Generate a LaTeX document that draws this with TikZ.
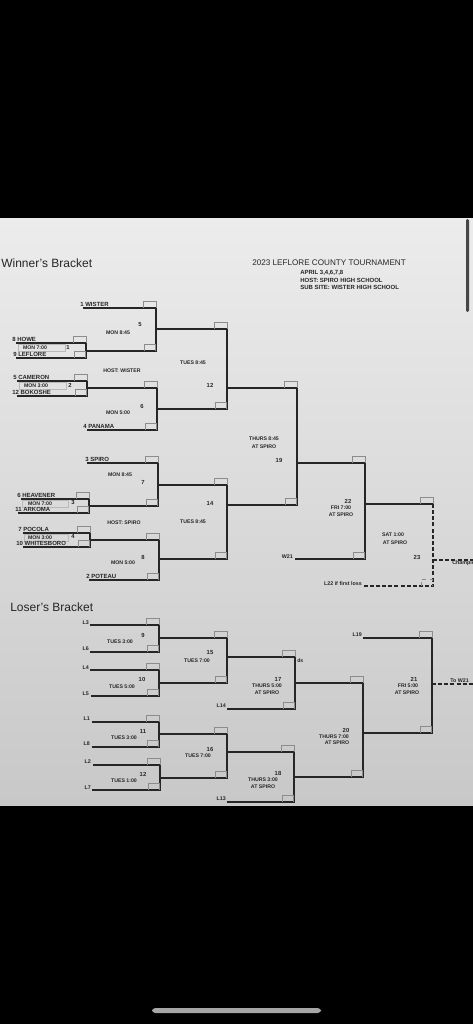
\documentclass[tikz,border=0pt]{standalone}
\usepackage{fontspec}
\setmainfont{Liberation Sans}
\definecolor{ink}{RGB}{38,38,38}
\definecolor{paperA}{RGB}{236,236,236}
\definecolor{paperB}{RGB}{200,200,200}
\definecolor{boxc}{RGB}{140,140,140}
\definecolor{faint}{RGB}{185,185,185}
\newcommand\scoreboxes[3]{%
  \draw[sb] (#1-13,#2) |- (#1,#2-7) -- (#1,#2);
  \draw[sb] (#1-12,#3) |- (#1-1,#3-7) -- (#1-1,#3);}
\begin{document}
\begin{tikzpicture}[x=0.75pt,y=-0.75pt,
  br/.style={draw=ink,line width=1pt},
  dsh/.style={draw=ink,line width=1pt,dash pattern=on 3pt off 1.6pt},
  sb/.style={draw=boxc,line width=0.4pt},
  fbox/.style={draw=faint,line width=0.4pt},
  lbl/.style={inner sep=0pt,text=ink,font=\fontsize{3.9}{4.4}\selectfont\bfseries},
  num/.style={inner sep=0pt,text=ink,font=\fontsize{4.4}{5}\selectfont\bfseries},
  team/.style={inner sep=0pt,anchor=base west,text=ink,font=\fontsize{4.5}{5}\selectfont\bfseries},
  ll/.style={inner sep=0pt,anchor=base east,text=ink,font=\fontsize{4}{4.5}\selectfont\bfseries},
  head/.style={inner sep=0pt,anchor=west,text=ink,font=\fontsize{9}{10}\selectfont},
  sub/.style={inner sep=0pt,anchor=west,text=ink,font=\fontsize{4.5}{5}\selectfont\bfseries}]
\fill[black] (0,0) rectangle (473,1024);
\useasboundingbox (0,0) rectangle (473,1024);
\shade[top color=paperA,bottom color=paperB] (0,218) rectangle (473,805);
\fill[gray!55!black,rounded corners=1] (466,219) rectangle (469,312);
\fill[gray!70,rounded corners=2.5] (152,1008) rectangle (321,1013);

% headings
\node[head] (hw) at (1,263) {Winner's Bracket};
\node[head] (hl) at (10,607) {Loser's Bracket};
\node[inner sep=0pt,anchor=west,text=ink,font=\fontsize{6.1}{7}\selectfont] (title) at (252,263) {2023 LEFLORE COUNTY TOURNAMENT};
\node[sub] (s1) at (300,273) {APRIL 3,4,6,7,8};
\node[sub] (s2) at (300,280) {HOST: SPIRO HIGH SCHOOL};
\node[sub] (s3) at (300,287) {SUB SITE: WISTER HIGH SCHOOL};

% ---------- Winner's bracket lines ----------
\draw[br] (16,343) -- (86,343) -- (86,358) -- (16,358);   % G1
\draw[br] (17,381) -- (87,381) -- (87,396) -- (17,396);   % G2
\draw[br] (83,308) -- (156,308) -- (156,351) -- (86,351); % G5
\draw[br] (87,388) -- (157,388) -- (157,430) -- (87,430); % G6
\draw[br] (156,329) -- (227,329) -- (227,409) -- (157,409); % G12
\draw[br] (21,499) -- (89,499) -- (89,513) -- (18,513);   % G3
\draw[br] (23,533) -- (90,533) -- (90,547) -- (23,547);   % G4
\draw[br] (87,463) -- (158,463) -- (158,506) -- (89,506); % G7
\draw[br] (90,540) -- (159,540) -- (159,580) -- (89,580); % G8
\draw[br] (158,485) -- (227,485) -- (227,559) -- (159,559); % G14
\draw[br] (227,388) -- (297,388) -- (297,505) -- (227,505); % G19
\draw[br] (297,463) -- (365,463) -- (365,559) -- (295,559); % G22
\draw[br] (365,504) -- (433,504);                           % G23 top
\draw[dsh] (433,504) -- (433,586) -- (363,586);             % G23 dashed
\draw[dsh] (433,560) -- (473,560);

\scoreboxes{86}{343}{358}
\scoreboxes{87}{381}{396}
\scoreboxes{156}{308}{351}
\scoreboxes{157}{388}{430}
\scoreboxes{227}{329}{409}
\scoreboxes{89}{499}{513}
\scoreboxes{90}{533}{547}
\scoreboxes{158}{463}{506}
\scoreboxes{159}{540}{580}
\scoreboxes{227}{485}{559}
\scoreboxes{297}{388}{505}
\scoreboxes{365}{463}{559}
\draw[sb] (420,504) |- (433,497) -- (433,504);
\draw[sb,dashed] (421,586) |- (432,579) -- (432,586);

\draw[fbox] (18,344.5) rectangle (65,351);
\draw[fbox] (19,382.5) rectangle (66,389);
\draw[fbox] (22,500.5) rectangle (68,507);
\draw[fbox] (24,534.5) rectangle (68,541);

% teams
\node[team] (t1)  at (80,306.5) {1 WISTER};
\node[team] (t8)  at (12,341.5) {8 HOWE};
\node[team] (t9)  at (13,356.5) {9 LEFLORE};
\node[team] (t5)  at (13,379.5) {5 CAMERON};
\node[team] (t12) at (12,394.5) {12 BOKOSHE};
\node[team] (t4)  at (83,428.5) {4 PANAMA};
\node[team] (t3)  at (85,461.5) {3 SPIRO};
\node[team] (t6)  at (17,497.5) {6 HEAVENER};
\node[team] (t11) at (15,511.5) {11 ARKOMA};
\node[team] (t7)  at (18,531.5) {7 POCOLA};
\node[team] (t10) at (16,545.5) {10 WHITESBORO};
\node[team] (t2)  at (86,578.5) {2 POTEAU};

% game labels
\node[num] (n5) at (140,325) {5};   \node[lbl] (m5) at (118,333) {MON 8:45};
\node[lbl] (m1) at (35,348) {MON 7:00}; \node[num] (n1) at (68,347) {1};
\node[lbl] (m2) at (36,385.5) {MON 3:00}; \node[num] (n2) at (70,385) {2};
\node[lbl] (hw1) at (122,371) {HOST: WISTER};
\node[num] (n6) at (142,406) {6};   \node[lbl] (m6) at (118,413) {MON 5:00};
\node[lbl] (m12) at (193,363) {TUES 8:45}; \node[num] (n12) at (210,385) {12};
\node[lbl] (m7) at (120,475) {MON 8:45}; \node[num] (n7) at (143,482) {7};
\node[lbl] (m3) at (40,503.5) {MON 7:00}; \node[num] (n3) at (73,502) {3};
\node[lbl] (hs1) at (124,523) {HOST: SPIRO};
\node[lbl] (m4) at (40,537.5) {MON 3:00}; \node[num] (n4) at (73,536) {4};
\node[num] (n8) at (143,557) {8};   \node[lbl] (m8) at (123,563) {MON 5:00};
\node[num] (n14) at (210,503) {14}; \node[lbl] (m14) at (193,522) {TUES 8:45};
\node[lbl] (m19a) at (264,439) {THURS 8:45}; \node[lbl] (m19b) at (264,446.5) {AT SPIRO}; \node[num] (n19) at (279,460) {19};
\node[num] (n22) at (348,501) {22}; \node[lbl] (m22a) at (341,508) {FRI 7:00}; \node[lbl] (m22b) at (341,515) {AT SPIRO};
\node[ll] (w21) at (293,558) {W21};
\node[lbl] (m23a) at (393,535) {SAT 1:00}; \node[lbl] (m23b) at (395,542.5) {AT SPIRO}; \node[num] (n23) at (417,557) {23};
\node[ll] (l22) at (362,585) {L22 if first loss};
\node[inner sep=0pt,anchor=base west,text=ink,font=\fontsize{4}{4.5}\selectfont\bfseries] (ch) at (452,564.5) {Champion};

% ---------- Loser's bracket lines ----------
\draw[br] (90,625) -- (159,625) -- (159,652) -- (90,652);   % G9
\draw[br] (90,670) -- (159,670) -- (159,696) -- (91,696);   % G10
\draw[br] (159,638) -- (227,638) -- (227,683) -- (159,683); % G15
\draw[br] (92,722) -- (159,722) -- (159,747) -- (92,747);   % G11
\draw[br] (93,765) -- (160,765) -- (160,790) -- (92,790);   % G12
\draw[br] (159,734) -- (227,734) -- (227,778) -- (160,778); % G16
\draw[br] (227,657) -- (295,657) -- (295,709) -- (227,709); % G17
\draw[br] (227,752) -- (294,752) -- (294,802) -- (227,802); % G18
\draw[br] (295,683) -- (363,683) -- (363,777) -- (294,777); % G20
\draw[br] (363,638) -- (432,638) -- (432,733) -- (363,733); % G21
\draw[dsh] (432,684) -- (473,684);

\scoreboxes{159}{625}{652}
\scoreboxes{159}{670}{696}
\scoreboxes{227}{638}{683}
\scoreboxes{159}{722}{747}
\scoreboxes{160}{765}{790}
\scoreboxes{227}{734}{778}
\scoreboxes{295}{657}{709}
\scoreboxes{294}{752}{802}
\scoreboxes{363}{683}{777}
\scoreboxes{432}{638}{733}

\node[ll] (L3) at (89,624) {L3};
\node[ll] (L6) at (89,650) {L6};
\node[ll] (L4) at (89,669) {L4};
\node[ll] (L5) at (89,695) {L5};
\node[ll] (L1) at (90,720.5) {L1};
\node[ll] (L8) at (90,745.5) {L8};
\node[ll] (L2) at (91,763.5) {L2};
\node[ll] (L7) at (91,789) {L7};
\node[ll] (L14) at (226,707) {L14};
\node[ll] (L13) at (226,800) {L13};
\node[ll] (L19) at (362,636) {L19};

\node[num] (n9) at (143,635) {9};   \node[lbl] (m9) at (120,642) {TUES 3:00};
\node[num] (n10) at (142,679) {10}; \node[lbl] (m10) at (122,687) {TUES 5:00};
\node[num] (n15) at (210,653) {15}; \node[lbl] (m15) at (197,661) {TUES 7:00};
\node[num] (n11) at (143,731) {11}; \node[lbl] (m11) at (124,738) {TUES 3:00};
\node[num] (n12l) at (143,774) {12}; \node[lbl] (m12l) at (124,781) {TUES 1:00};
\node[num] (n16) at (210,749) {16}; \node[lbl] (m16) at (198,756) {TUES 7:00};
\node[num] (n17) at (278,679) {17}; \node[lbl] (m17a) at (267,686) {THURS 5:00}; \node[lbl] (m17b) at (267,693) {AT SPIRO};
\node[inner sep=0pt,anchor=west,text=ink,font=\fontsize{3.9}{4.4}\selectfont\bfseries] (ds) at (297,661) {ds};
\node[num] (n18) at (278,773) {18}; \node[lbl] (m18a) at (263,780) {THURS 3:00}; \node[lbl] (m18b) at (263,787) {AT SPIRO};
\node[num] (n20) at (346,730) {20}; \node[lbl] (m20a) at (334,737) {THURS 7:00}; \node[lbl] (m20b) at (337,743) {AT SPIRO};
\node[num] (n21) at (414,679) {21}; \node[lbl] (m21a) at (408,686) {FRI 5:00}; \node[lbl] (m21b) at (407,693) {AT SPIRO};
\node[inner sep=0pt,anchor=base west,text=ink,font=\fontsize{4}{4.5}\selectfont\bfseries] (tw) at (450,682) {To W21};
\end{tikzpicture}
\end{document}
